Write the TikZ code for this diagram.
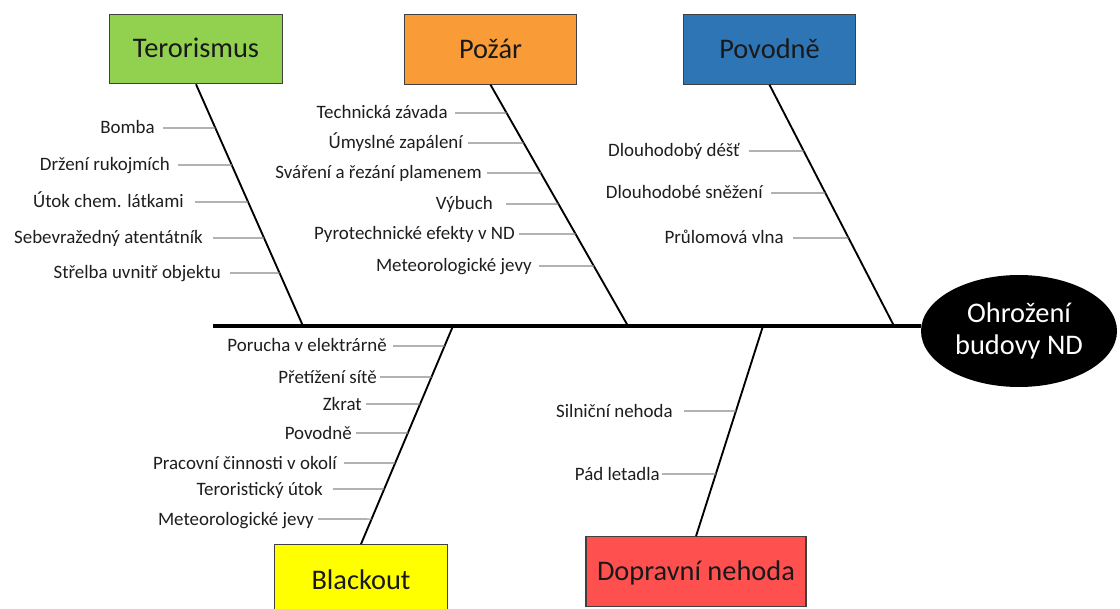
\documentclass[tikz,border=0pt]{standalone}
\usepackage{fontspec}
\setmainfont{Carlito}
\usetikzlibrary{calc,shapes.geometric}

\definecolor{catgreen}{HTML}{92D050}
\definecolor{catorange}{HTML}{F99B37}
\definecolor{catblue}{HTML}{2E75B6}
\definecolor{catyellow}{HTML}{FFFF00}
\definecolor{catred}{HTML}{FF5050}
\definecolor{ribgray}{HTML}{8A8A8A}
\definecolor{labeltext}{HTML}{1E1E1E}

% one cause: #1 name, #2 bone end A, #3 bone end B, #4 text right x, #5 rib start x, #6 y, #7 text
\newcommand\cause[7]{%
  \node[lbl] (#1) at (#4,#6) {#7};
  \draw[ribline] (#1.east) ++(#5-#4,0) -- (intersection of #2--#3 and 0,#6--1,#6);
}

\begin{document}
\begin{tikzpicture}[x=0.75pt,y=-0.75pt,
  catbox/.style={draw=black!75, line width=0.9pt, inner sep=0pt,
    minimum width=129.5pt, minimum height=52pt, text=black!90,
    font=\fontsize{21.3}{25}\selectfont, text height=13.5pt, text depth=0pt},
  lbl/.style={anchor=east, inner sep=0pt, text=labeltext,
    font=\fontsize{14.2}{17}\selectfont, text height=9pt, text depth=0pt},
  ribline/.style={draw=ribgray, line width=0.8pt},
  bone/.style={draw=black, line width=1.4pt},
  spine/.style={draw=black, line width=2.4pt},
  effect/.style={ellipse, fill=black, text=white, inner sep=0pt,
    minimum width=147pt, minimum height=84pt, align=center,
    font=\fontsize{21.3}{24}\selectfont}]

\clip (0,0) rectangle (1120,609);
\fill[white] (0,0) rectangle (1120,609);

% category boxes
\node[catbox, fill=catgreen]  (T) at (196,49)    {Terorismus};
\node[catbox, fill=catorange] (P) at (490.5,49.5) {Požár};
\node[catbox, fill=catblue]   (V) at (769.5,49.5) {Povodně};
\node[catbox, fill=catyellow, minimum height=53pt] (B) at (361,580) {Blackout};
\node[catbox, fill=catred, minimum width=165pt] (D) at (696,571.5) {Dopravní nehoda};

% effect
\node[effect] (E) at (1019,331) {Ohrožení\\budovy ND};

% spine and bone feet
\coordinate (spine) at (213,326);
\coordinate (tFoot) at (303,326);
\coordinate (pFoot) at (628,326);
\coordinate (vFoot) at (894,326);
\coordinate (bTop)  at (453,326);
\coordinate (dTop)  at (763,326);
\draw[spine] (spine) -- (spine -| E.west);

% bones
\draw[bone] (T.south) -- (tFoot);
\draw[bone] (P.south) -- (pFoot);
\draw[bone] (V.south) -- (vFoot);
\draw[bone] (bTop) -- (B.north);
\draw[bone] (dTop) -- (D.north);

% Terorismus
\cause{t1}{T.south}{tFoot}{155}{163}{128}{Bomba}
\cause{t2}{T.south}{tFoot}{170}{178}{165}{Držení rukojmích}
\cause{t3}{T.south}{tFoot}{184}{195}{202}{Útok chem. látkami}
\cause{t4}{T.south}{tFoot}{203}{213}{238}{Sebevražedný atentátník}
\cause{t5}{T.south}{tFoot}{221}{230}{273}{Střelba uvnitř objektu}

% Požár
\cause{p1}{P.south}{pFoot}{448}{455}{113}{Technická závada}
\cause{p2}{P.south}{pFoot}{463}{468}{143}{Úmyslné zapálení}
\cause{p3}{P.south}{pFoot}{482}{487}{173}{Sváření a řezání plamenem}
\cause{p4}{P.south}{pFoot}{493}{506}{204}{Výbuch}
\cause{p5}{P.south}{pFoot}{515}{519}{234}{Pyrotechnické efekty v ND}
\cause{p6}{P.south}{pFoot}{532}{539}{266}{Meteorologické jevy}

% Povodně
\cause{v1}{V.south}{vFoot}{740}{749}{151}{Dlouhodobý déšť}
\cause{v2}{V.south}{vFoot}{763}{771}{193}{Dlouhodobé sněžení}
\cause{v3}{V.south}{vFoot}{784}{793}{238}{Průlomová vlna}

% Blackout
\cause{b1}{bTop}{B.north}{387}{393}{346}{Porucha v elektrárně}
\cause{b2}{bTop}{B.north}{377}{380}{377}{Přetížení sítě}
\cause{b3}{bTop}{B.north}{362}{366}{404}{Zkrat}
\cause{b4}{bTop}{B.north}{352}{356}{433}{Povodně}
\cause{b5}{bTop}{B.north}{337}{344}{463}{Pracovní činnosti v okolí}
\cause{b6}{bTop}{B.north}{323}{333}{489}{Teroristický útok}
\cause{b7}{bTop}{B.north}{314}{318}{519}{Meteorologické jevy}

% Dopravní nehoda
\cause{d1}{dTop}{D.north}{673}{684}{411}{Silniční nehoda}
\cause{d2}{dTop}{D.north}{660}{662}{474}{Pád letadla}

\end{tikzpicture}
\end{document}
